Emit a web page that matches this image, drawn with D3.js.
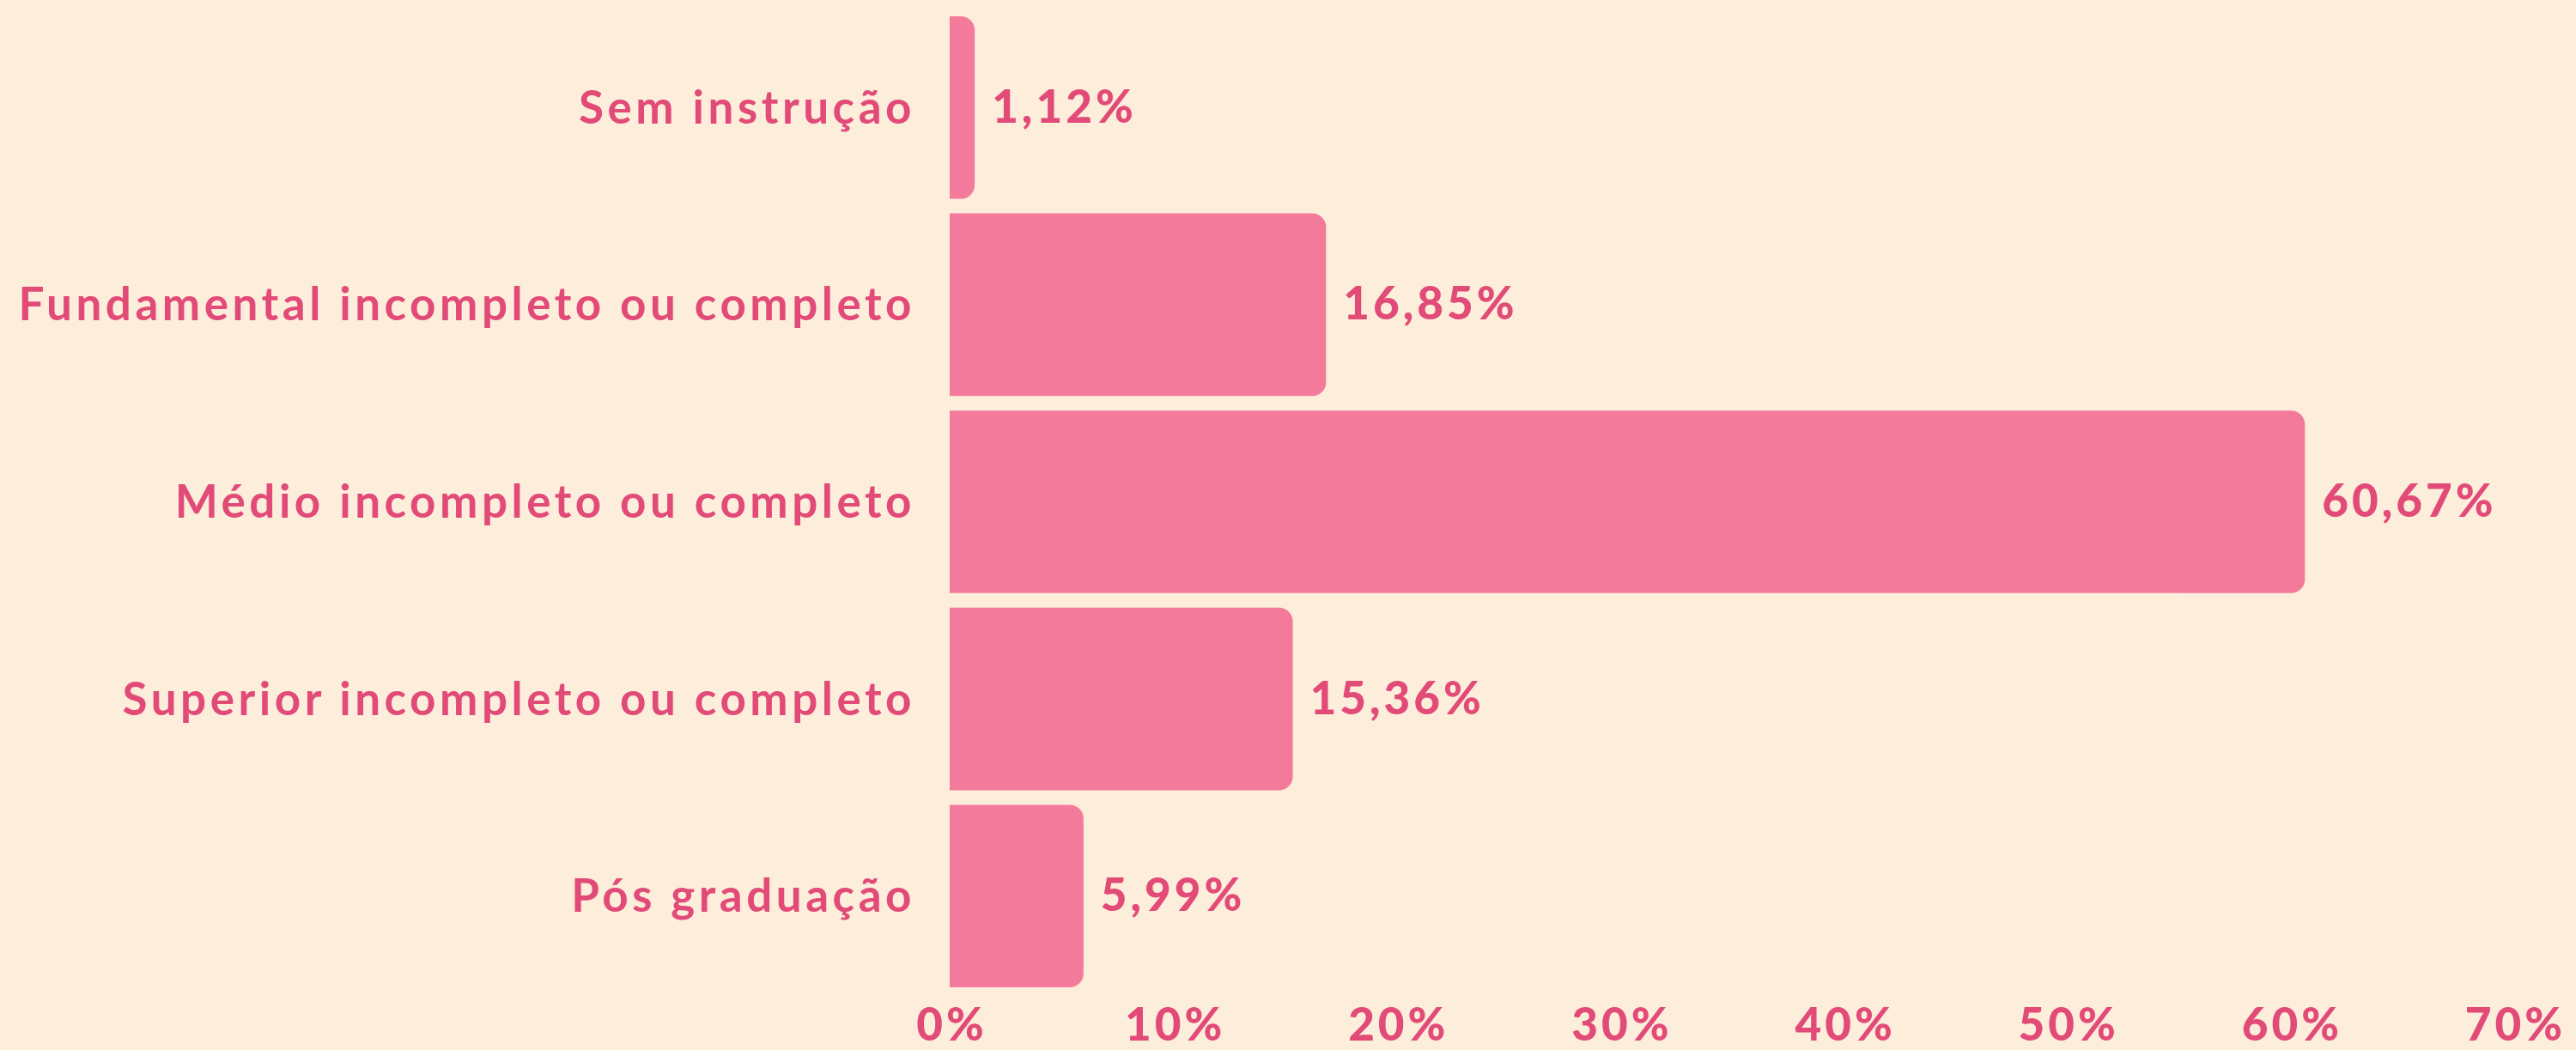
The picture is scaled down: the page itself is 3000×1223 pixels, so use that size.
<!DOCTYPE html>
<html>
<head>
<meta charset="utf-8">
<script src="https://cdn.jsdelivr.net/npm/d3@7"></script>
<style>
  html, body { margin: 0; padding: 0; background: #fdeddb; }
  svg { display: block; }
  .cat { font-family: "Lato", sans-serif; font-weight: 700; letter-spacing: 4.5px; }
  .val, .tick text { font-family: "Lato", sans-serif; font-weight: 900; letter-spacing: 4px; }
</style>
</head>
<body>
<svg id="chart"></svg>
<script>
// chart data
const categories = [
  "Sem instrução",
  "Fundamental incompleto ou completo",
  "Médio incompleto ou completo",
  "Superior incompleto ou completo",
  "Pós graduação"
];
const shares = [1.12, 16.85, 60.67, 15.36, 5.99];
const tickValues = [0, 10, 20, 30, 40, 50, 60, 70];

const width = 3000;
const height = 1223;
const barColor = "#f47a9c";
const textColor = "#e24b78";

const svg = d3.select("#chart")
  .attr("width", width)
  .attr("height", height)
  .style("background", "#fdeddb");

const x = d3.scaleLinear().domain([0, 70]).range([1106, 2927]);
const y = d3.scaleBand()
  .domain(categories)
  .range([19, 1150])
  .paddingInner(0.074)
  .paddingOuter(0);

const fmt = (v) => v.toFixed(2).replace(".", ",") + "%";

// bar with only the right corners rounded
const barPath = (x0, y0, w, h, r) => {
  r = Math.min(r, w, h / 2);
  return `M${x0},${y0}H${x0 + w - r}A${r},${r} 0 0 1 ${x0 + w},${y0 + r}` +
    `V${y0 + h - r}A${r},${r} 0 0 1 ${x0 + w - r},${y0 + h}H${x0}Z`;
};

const rows = categories.map((c, i) => ({ cat: c, v: shares[i] }));

svg.append("g")
  .selectAll("path")
  .data(rows)
  .join("path")
  .attr("d", (d) => barPath(x(0), y(d.cat), x(d.v) - x(0), y.bandwidth(), 16))
  .attr("fill", barColor);

// value labels
svg.append("g")
  .selectAll("text")
  .data(rows)
  .join("text")
  .attr("class", "val")
  .attr("x", (d) => x(d.v) + 20)
  .attr("y", (d) => y(d.cat) + y.bandwidth() / 2)
  .attr("dy", "0.33em")
  .attr("font-size", 53)
  .attr("fill", textColor)
  .text((d) => fmt(d.v));

// category labels (letter-spacing leaves a trailing gap, so nudge right)
svg.append("g")
  .selectAll("text")
  .data(rows)
  .join("text")
  .attr("class", "cat")
  .attr("x", 1066)
  .attr("y", (d) => y(d.cat) + y.bandwidth() / 2)
  .attr("dy", "0.35em")
  .attr("text-anchor", "end")
  .attr("font-size", 53)
  .attr("fill", textColor)
  .text((d) => d.cat);

// x axis
const axis = svg.append("g")
  .attr("transform", `translate(0,${1163})`)
  .call(d3.axisBottom(x).tickValues(tickValues).tickSize(0).tickFormat((d) => d + "%"));
axis.select(".domain").remove();
axis.selectAll("text")
  .attr("font-size", 53)
  .attr("fill", textColor)
  .attr("dy", "0.71em")
  .attr("dx", 2)
  .attr("y", 11);
</script>
</body>
</html>
